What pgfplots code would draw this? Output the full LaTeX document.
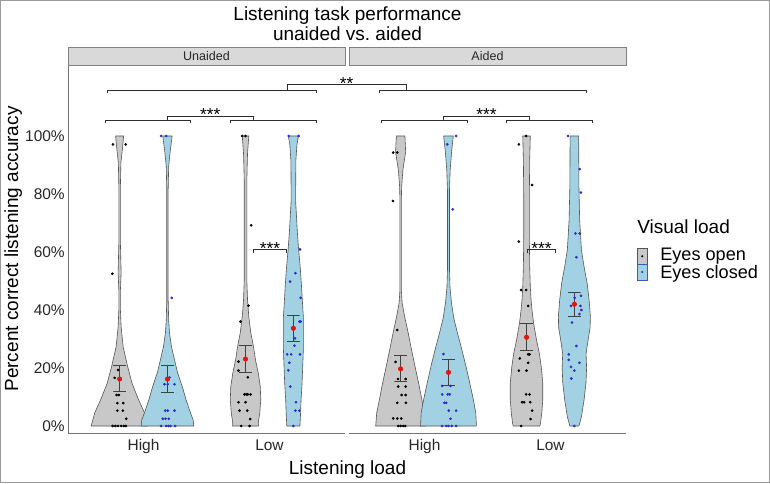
\documentclass[border=0pt]{standalone}
\usepackage{pgfplots}
\usepackage{pgfplotstable}
\pgfplotsset{compat=1.18}
\usepackage{fontspec}
\setmainfont{Liberation Sans}
\definecolor{vgray}{RGB}{200,200,200}
\definecolor{vblue}{RGB}{162,209,227}
\definecolor{ptblue}{RGB}{45,45,200}
\definecolor{outl}{RGB}{85,85,85}
\definecolor{meanred}{RGB}{225,20,20}
\definecolor{brk}{RGB}{45,45,45}
\definecolor{keyblue}{RGB}{60,90,190}

% violin outlines: y, signed half-width (right side up, left side down)
\pgfplotstableread{
y d
0 0.225
0.010 0.220
0.045 0.198
0.090 0.151
0.148 0.098
0.210 0.061
0.273 0.028
0.342 0.012
0.400 0.0063
0.469 0.0063
0.528 0.012
0.572 0.0095
0.641 0.0056
0.814 0.0056
0.907 0.010
0.963 0.024
1 0.032
1 -0.032
0.963 -0.024
0.907 -0.010
0.814 -0.0056
0.641 -0.0056
0.572 -0.0095
0.528 -0.012
0.469 -0.0063
0.400 -0.0063
0.342 -0.012
0.273 -0.028
0.210 -0.061
0.148 -0.098
0.090 -0.151
0.045 -0.198
0.010 -0.220
0 -0.225
0 0.225
}\vA
\pgfplotstableread{
y d
0 0.209
0.021 0.204
0.045 0.183
0.090 0.148
0.134 0.119
0.186 0.079
0.228 0.056
0.273 0.032
0.321 0.016
0.366 0.0095
0.434 0.0056
0.814 0.0056
0.894 0.0095
0.941 0.020
1 0.037
1 -0.037
0.941 -0.020
0.894 -0.0095
0.814 -0.0056
0.434 -0.0056
0.366 -0.0095
0.321 -0.016
0.273 -0.032
0.228 -0.056
0.186 -0.079
0.134 -0.119
0.090 -0.148
0.045 -0.183
0.021 -0.204
0 -0.209
0 0.209
}\vB
\pgfplotstableread{
y d
0 0.103
0.010 0.101
0.045 0.113
0.090 0.121
0.136 0.117
0.183 0.101
0.228 0.079
0.279 0.061
0.321 0.042
0.377 0.026
0.434 0.016
0.503 0.0103
0.848 0.0103
0.941 0.016
1 0.026
1 -0.026
0.941 -0.016
0.848 -0.0103
0.503 -0.0103
0.434 -0.016
0.377 -0.026
0.321 -0.042
0.279 -0.061
0.228 -0.079
0.183 -0.101
0.136 -0.117
0.090 -0.121
0.045 -0.113
0.010 -0.101
0 -0.103
0 0.103
}\vC
\pgfplotstableread{
y d
0 0.052
0.032 0.056
0.090 0.061
0.148 0.069
0.204 0.074
0.262 0.079
0.377 0.079
0.434 0.071
0.493 0.063
0.549 0.054
0.607 0.042
0.666 0.032
0.779 0.0175
0.917 0.020
0.969 0.028
1 0.040
1 -0.040
0.969 -0.028
0.917 -0.020
0.779 -0.0175
0.666 -0.032
0.607 -0.042
0.549 -0.054
0.493 -0.063
0.434 -0.071
0.377 -0.079
0.262 -0.079
0.204 -0.074
0.148 -0.069
0.090 -0.061
0.032 -0.056
0 -0.052
0 0.052
}\vD
\pgfplotstableread{
y d
0 0.198
0.045 0.190
0.090 0.169
0.148 0.143
0.204 0.115
0.262 0.087
0.321 0.060
0.377 0.032
0.424 0.012
0.469 0.0056
0.779 0.0056
0.825 0.008
0.883 0.018
0.945 0.040
1 0.034
1 -0.034
0.945 -0.040
0.883 -0.018
0.825 -0.008
0.779 -0.0056
0.469 -0.0056
0.424 -0.012
0.377 -0.032
0.321 -0.060
0.262 -0.087
0.204 -0.115
0.148 -0.143
0.090 -0.169
0.045 -0.190
0 -0.198
0 0.198
}\vE
\pgfplotstableread{
y d
0 0.222
0.045 0.217
0.090 0.198
0.148 0.169
0.204 0.140
0.262 0.107
0.321 0.071
0.372 0.042
0.424 0.024
0.479 0.012
0.538 0.008
0.814 0.008
0.883 0.0135
0.941 0.024
1 0.038
1 -0.038
0.941 -0.024
0.883 -0.0135
0.814 -0.008
0.538 -0.008
0.479 -0.012
0.424 -0.024
0.372 -0.042
0.321 -0.071
0.262 -0.107
0.204 -0.140
0.148 -0.169
0.090 -0.198
0.045 -0.217
0 -0.222
0 0.222
}\vF
\pgfplotstableread{
y d
0 0.106
0.010 0.111
0.045 0.121
0.090 0.129
0.148 0.129
0.204 0.117
0.252 0.101
0.297 0.079
0.355 0.056
0.390 0.046
0.434 0.036
0.480 0.030
0.549 0.025
0.666 0.022
0.779 0.022
0.917 0.025
1 0.030
1 -0.030
0.917 -0.025
0.779 -0.022
0.666 -0.022
0.549 -0.025
0.480 -0.030
0.434 -0.036
0.390 -0.046
0.355 -0.056
0.297 -0.079
0.252 -0.101
0.204 -0.117
0.148 -0.129
0.090 -0.129
0.045 -0.121
0.010 -0.111
0 -0.106
0 0.106
}\vG
\pgfplotstableread{
y d
0 0.036
0.032 0.056
0.090 0.077
0.148 0.092
0.200 0.097
0.250 0.093
0.300 0.110
0.340 0.125
0.377 0.127
0.434 0.117
0.493 0.101
0.549 0.077
0.607 0.056
0.710 0.042
0.825 0.036
1 0.034
1 -0.034
0.825 -0.036
0.710 -0.042
0.607 -0.056
0.549 -0.077
0.493 -0.101
0.434 -0.117
0.377 -0.127
0.340 -0.125
0.300 -0.110
0.250 -0.093
0.200 -0.097
0.148 -0.092
0.090 -0.077
0.032 -0.056
0 -0.036
0 0.036
}\vH

\tikzset{
  violin/.style={line width=0.45pt, draw=outl},
  ebar/.style={draw=black!75, line width=0.6pt},
  brkt/.style={draw=brk, line width=0.5pt},
  star/.style={anchor=base, inner sep=0pt, yshift=-3.75pt, font=\fontsize{13}{13}\selectfont},
  strip/.style={fill=gray!30, draw=black!50, line width=0.6pt},
  striptext/.style={font=\fontsize{9.4}{10}\selectfont, text=black!85},
}
\pgfplotsset{
  panel/.style={
    scale only axis, width=207.75pt, height=276pt,
    xmin=0.4, xmax=2.6, ymin=-0.02414, ymax=1.24483,
    xtick={1,2}, xticklabels={High,Low},
    major tick length=0pt,
    tick label style={font=\fontsize{11.6}{12}\selectfont, text=black!85},
    xticklabel style={anchor=base, inner sep=0pt, yshift=-12.75pt},
    clip=false,
  },
  noarrows/.style={
    axis line style={-, draw=black!55, line width=0.6pt},
    x axis line style={-}, y axis line style={-},
    every outer x axis line/.append style={-},
    every outer y axis line/.append style={-},
  },
  ptsk/.style={only marks, mark=*, mark size=0.8pt, black},
  ptsb/.style={only marks, mark=*, mark size=0.8pt, ptblue},
  meanpt/.style={only marks, mark=*, mark size=1.7pt, meanred},
}

\begin{document}
\begin{tikzpicture}
\useasboundingbox (0,0) rectangle (577.5pt,362.25pt);
\begin{scope}[x=0.75pt,y=0.75pt]
\fill[white] (0,0) rectangle (770,483);
\draw[black!40, line width=0.75pt] (0.5,0.5) rectangle (769.5,482.5);
\node[anchor=base, font=\fontsize{14.25}{16}\selectfont] at (347.5,462) {Listening task performance};
\node[anchor=base, font=\fontsize{14.25}{16}\selectfont] at (347.5,442) {unaided vs.\ aided};
\node[anchor=base, font=\fontsize{14.25}{16}\selectfont] at (347.5,9) {Listening load};
\node[anchor=base, rotate=90, font=\fontsize{14.25}{16}\selectfont] at (18,234) {Percent correct listening accuracy};
\node[anchor=base west, inner sep=0pt, font=\fontsize{14.25}{16}\selectfont] at (637,250) {Visual load};
\node[anchor=base west, inner sep=0pt, font=\fontsize{13.6}{16}\selectfont] at (660,223) {Eyes open};
\node[anchor=base west, inner sep=0pt, font=\fontsize{13.6}{16}\selectfont] at (660,204.5) {Eyes closed};
\end{scope}

% ---------------- Unaided panel ----------------
\begin{axis}[panel, at={(51pt,37.5pt)}, anchor=south west,
  axis lines=left, noarrows,
  ytick={0,0.2,0.4,0.6,0.8,1}, yticklabels={0\%,20\%,40\%,60\%,80\%,100\%},
  yticklabel style={anchor=east, inner sep=0pt, xshift=-2.25pt}]
\draw[strip] (rel axis cs:0,1) rectangle ([yshift=13.5pt]rel axis cs:1,1);
\node[striptext] at ([yshift=6.75pt]rel axis cs:0.5,1) {Unaided};

\addplot[violin, fill=vgray] table[x expr=0.81+\thisrow{d}, y=y] {\vA};
\addplot[violin, fill=vblue] table[x expr=1.19+\thisrow{d}, y=y] {\vB};
\addplot[violin, fill=vgray] table[x expr=1.81+\thisrow{d}, y=y] {\vC};
\addplot[violin, fill=vblue] table[x expr=2.19+\thisrow{d}, y=y] {\vD};

\addplot[ptsk] coordinates {(0.757,0.971) (0.858,0.971) (0.752,0.525) (0.797,0.193) (0.770,0.166) (0.786,0.107) (0.804,0.107) (0.792,0.079) (0.839,0.079) (0.792,0.053) (0.836,0.053) (0.863,0.025) (0.754,0) (0.776,0) (0.797,0) (0.823,0) (0.844,0) (0.860,0)};
\addplot[ptsb] coordinates {(1.140,1) (1.180,1) (1.224,0.442) (1.206,0.167) (1.166,0.144) (1.192,0.144) (1.246,0.144) (1.172,0.053) (1.192,0.053) (1.246,0.053) (1.153,0.025) (1.174,0.025) (1.200,0.025) (1.140,0) (1.180,0) (1.198,0) (1.214,0) (1.251,0)};
\addplot[ptsk] coordinates {(1.784,1) (1.810,1) (1.855,0.692) (1.834,0.415) (1.770,0.360) (1.754,0.222) (1.754,0.191) (1.828,0.168) (1.802,0.109) (1.816,0.109) (1.828,0.109) (1.850,0.109) (1.754,0.082) (1.810,0.082) (1.762,0.053) (1.824,0.053) (1.847,0.024) (1.776,0) (1.842,0)};
\addplot[ptsb] coordinates {(2.153,1) (2.232,1) (2.243,0.609) (2.206,0.527) (2.164,0.498) (2.248,0.442) (2.238,0.360) (2.248,0.360) (2.203,0.302) (2.198,0.277) (2.140,0.247) (2.172,0.247) (2.243,0.247) (2.158,0.218) (2.150,0.192) (2.166,0.136) (2.211,0.082) (2.206,0.053) (2.238,0.053) (2.19,0)};

\addplot[ebar] coordinates {(0.76,0.208) (0.86,0.208) (0.81,0.208) (0.81,0.118) (0.76,0.118) (0.86,0.118)};
\addplot[ebar] coordinates {(1.14,0.208) (1.24,0.208) (1.19,0.208) (1.19,0.115) (1.14,0.115) (1.24,0.115)};
\addplot[ebar] coordinates {(1.76,0.277) (1.86,0.277) (1.81,0.277) (1.81,0.185) (1.76,0.185) (1.86,0.185)};
\addplot[ebar] coordinates {(2.14,0.380) (2.24,0.380) (2.19,0.380) (2.19,0.293) (2.14,0.293) (2.24,0.293)};
\addplot[meanpt] coordinates {(0.81,0.162) (1.19,0.162) (1.81,0.231) (2.19,0.337)};

% significance brackets
\addplot[brkt] coordinates {(0.7153,1.1472) (0.7153,1.1586) (2.3698,1.1586) (2.3698,1.1472)};
\addplot[brkt] coordinates {(2.1394,1.1586) (2.1394,1.1793) (3.0846,1.1793) (3.0846,1.1586)};
\addplot[brkt] coordinates {(2.8702,1.1472) (2.8702,1.1586) (4.5199,1.1586) (4.5199,1.1472)};
\node[star] at (axis cs:2.612,1.1793) {**};
\addplot[brkt] coordinates {(0.6939,1.0438) (0.6939,1.0552) (1.3690,1.0552) (1.3690,1.0438)};
\addplot[brkt] coordinates {(1.1887,1.0552) (1.1887,1.0690) (1.8718,1.0690) (1.8718,1.0552)};
\addplot[brkt] coordinates {(1.6867,1.0438) (1.6867,1.0552) (2.3698,1.0552) (2.3698,1.0438)};
\node[star] at (axis cs:1.5303,1.0690) {***};
\addplot[brkt] coordinates {(1.8718,0.5955) (1.8718,0.6103) (2.1370,0.6103) (2.1370,0.5955)};
\node[star] at (axis cs:2.0044,0.6103) {***};
\end{axis}

% ---------------- Aided panel ----------------
\begin{axis}[panel, at={(261.75pt,37.5pt)}, anchor=south west,
  axis x line=bottom, axis y line=none, noarrows, ytick=\empty]
\draw[strip] (rel axis cs:0,1) rectangle ([yshift=13.5pt]rel axis cs:1,1);
\node[striptext] at ([yshift=6.75pt]rel axis cs:0.5,1) {Aided};

\addplot[violin, fill=vgray] table[x expr=0.81+\thisrow{d}, y=y] {\vE};
\addplot[violin, fill=vblue] table[x expr=1.19+\thisrow{d}, y=y] {\vF};
\addplot[violin, fill=vgray] table[x expr=1.81+\thisrow{d}, y=y] {\vG};
\addplot[violin, fill=vblue] table[x expr=2.19+\thisrow{d}, y=y] {\vH};

\addplot[ptsk] coordinates {(0.751,0.943) (0.783,0.943) (0.749,0.776) (0.783,0.331) (0.770,0.221) (0.789,0.162) (0.850,0.162) (0.791,0.136) (0.850,0.136) (0.818,0.107) (0.850,0.107) (0.783,0.080) (0.852,0.080) (0.751,0.026) (0.783,0.026) (0.815,0.026) (0.791,0) (0.810,0) (0.831,0) (0.847,0)};
\addplot[ptsb] coordinates {(1.251,1) (1.180,0.971) (1.224,0.747) (1.150,0.248) (1.140,0.138) (1.206,0.138) (1.140,0.109) (1.184,0.109) (1.200,0.109) (1.158,0.080) (1.172,0.080) (1.192,0.053) (1.251,0.053) (1.206,0.025) (1.140,0) (1.172,0) (1.190,0) (1.216,0) (1.251,0)};
\addplot[ptsk] coordinates {(1.807,1) (1.749,0.971) (1.854,0.831) (1.749,0.636) (1.767,0.469) (1.807,0.469) (1.823,0.414) (1.823,0.247) (1.834,0.247) (1.757,0.233) (1.823,0.218) (1.749,0.191) (1.810,0.191) (1.807,0.109) (1.834,0.109) (1.775,0.082) (1.791,0.082) (1.839,0.082) (1.854,0.053) (1.842,0.024) (1.767,0)};
\addplot[ptsb] coordinates {(2.139,1) (2.232,0.886) (2.242,0.805) (2.198,0.664) (2.232,0.664) (2.206,0.582) (2.242,0.449) (2.192,0.442) (2.163,0.414) (2.238,0.414) (2.246,0.400) (2.230,0.386) (2.171,0.357) (2.206,0.276) (2.145,0.247) (2.145,0.228) (2.163,0.204) (2.230,0.218) (2.190,0.191) (2.166,0.164) (2.19,0)};

\addplot[ebar] coordinates {(0.76,0.242) (0.86,0.242) (0.81,0.242) (0.81,0.153) (0.76,0.153) (0.86,0.153)};
\addplot[ebar] coordinates {(1.14,0.231) (1.24,0.231) (1.19,0.231) (1.19,0.139) (1.14,0.139) (1.24,0.139)};
\addplot[ebar] coordinates {(1.76,0.354) (1.86,0.354) (1.81,0.354) (1.81,0.260) (1.76,0.260) (1.86,0.260)};
\addplot[ebar] coordinates {(2.14,0.460) (2.24,0.460) (2.19,0.460) (2.19,0.379) (2.14,0.379) (2.24,0.379)};
\addplot[meanpt] coordinates {(0.81,0.197) (1.19,0.185) (1.81,0.306) (2.19,0.420)};

\addplot[brkt] coordinates {(0.6532,1.0438) (0.6532,1.0552) (1.3362,1.0552) (1.3362,1.0438)};
\addplot[brkt] coordinates {(1.1518,1.0552) (1.1518,1.0690) (1.8324,1.0690) (1.8324,1.0552)};
\addplot[brkt] coordinates {(1.6528,1.0438) (1.6528,1.0552) (2.3334,1.0552) (2.3334,1.0438)};
\node[star] at (axis cs:1.4921,1.0690) {***};
\addplot[brkt] coordinates {(1.8180,0.5955) (1.8180,0.6103) (2.0396,0.6103) (2.0396,0.5955)};
\node[star] at (axis cs:1.9288,0.6103) {***};

% legend keys
\addplot[violin, fill=vgray] coordinates {(2.6895,0.5586) (2.7687,0.5586) (2.7687,0.6121) (2.6895,0.6121) (2.6895,0.5586)};
\addplot[line width=0.45pt, draw=keyblue, fill=vblue] coordinates {(2.6895,0.5034) (2.7687,0.5034) (2.7687,0.5586) (2.6895,0.5586) (2.6895,0.5034)};
\addplot[only marks, mark=*, mark size=0.55pt, black] coordinates {(2.729,0.5853)};
\addplot[only marks, mark=*, mark size=0.55pt, ptblue] coordinates {(2.729,0.5310)};
\end{axis}
\end{tikzpicture}
\end{document}
